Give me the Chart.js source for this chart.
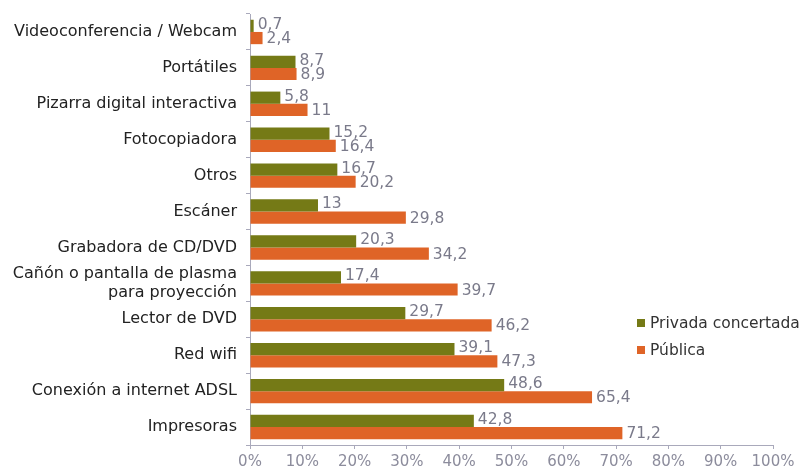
<!DOCTYPE html>
<html>
<head>
<meta charset="utf-8">
<script src="https://cdn.jsdelivr.net/npm/chart.js@4"></script>
<style>
  html, body { margin: 0; padding: 0; background: #fff; }
  #wrap { position: relative; width: 806px; height: 468px; }
  #legend { position: absolute; left: 637px; top: 312px; font: 15.5px "DejaVu Sans", Verdana, sans-serif; color: #333; }
  #legend div { height: 27px; line-height: 22px; white-space: nowrap; }
  #legend span { display: inline-block; width: 8px; height: 8px; margin-right: 5px; vertical-align: 1px; }
</style>
</head>
<body>
<div id="wrap">
  <canvas id="chart" width="806" height="468"></canvas>
  <div id="legend"></div>
</div>
<script>
const categories = [
  'Videoconferencia / Webcam',
  'Portátiles',
  'Pizarra digital interactiva',
  'Fotocopiadora',
  'Otros',
  'Escáner',
  'Grabadora de CD/DVD',
  ['Cañón o pantalla de plasma', 'para proyección'],
  'Lector de DVD',
  'Red wifi',
  'Conexión a internet ADSL',
  'Impresoras'
]
const privada = [0.7, 8.7, 5.8, 15.2, 16.7, 13, 20.3, 17.4, 29.7, 39.1, 48.6, 42.8]
const publica = [2.4, 8.9, 11, 16.4, 20.2, 29.8, 34.2, 39.7, 46.2, 47.3, 65.4, 71.2]
const seriesNames = ['Privada concertada', 'Pública']
const colors = ['#757a16', '#df6427']

const font = '"DejaVu Sans", Verdana, sans-serif'

// etiquetas de valor a la derecha de cada barra
const valueLabels = {
  id: 'valueLabels',
  afterDatasetsDraw(chart) {
    const ctx = chart.ctx
    ctx.save()
    ctx.font = '15.5px ' + font
    ctx.fillStyle = '#7a7a8a'
    ctx.textBaseline = 'middle'
    chart.data.datasets.forEach((ds, i) => {
      chart.getDatasetMeta(i).data.forEach((bar, j) => {
        const txt = String(ds.data[j]).replace('.', ',')
        ctx.fillText(txt, bar.x + 4, bar.y + (i === 0 ? -1 : 1))
      })
    })
    ctx.restore()
  }
}

const chart = new Chart(document.getElementById('chart'), {
  type: 'bar',
  data: {
    labels: categories,
    datasets: [
      { label: seriesNames[0], data: privada, backgroundColor: colors[0] },
      { label: seriesNames[1], data: publica, backgroundColor: colors[1] }
    ]
  },
  options: {
    indexAxis: 'y',
    responsive: false,
    animation: false,
    categoryPercentage: 0.68,
    barPercentage: 1,
    layout: { padding: { top: 14, right: 33, bottom: 0, left: 0 } },
    plugins: { legend: { display: false }, tooltip: { enabled: false } },
    scales: {
      x: {
        min: 0, max: 100,
        ticks: { stepSize: 10, callback: v => v + '%', color: '#8c8c9c', font: { family: font, size: 15 }, padding: 4 },
        grid: { drawOnChartArea: false, tickLength: 4, color: '#a9a9bb' },
        border: { color: '#a9a9bb' },
        afterFit: s => { s.height = 23 }
      },
      y: {
        ticks: { autoSkip: false, color: '#222', font: { family: font, size: 16 }, padding: 9 },
        grid: { drawOnChartArea: false, offset: true, tickLength: 4, color: '#a9a9bb' },
        border: { color: '#a9a9bb' },
        afterFit: s => { s.width = 250; s.paddingTop = 0; s.paddingBottom = 0 }
      }
    }
  },
  plugins: [valueLabels]
})

document.getElementById('legend').innerHTML = seriesNames.map((n, i) =>
  `<div><span style="background:${colors[i]}"></span>${n}</div>`).join('')
</script>
</body>
</html>
